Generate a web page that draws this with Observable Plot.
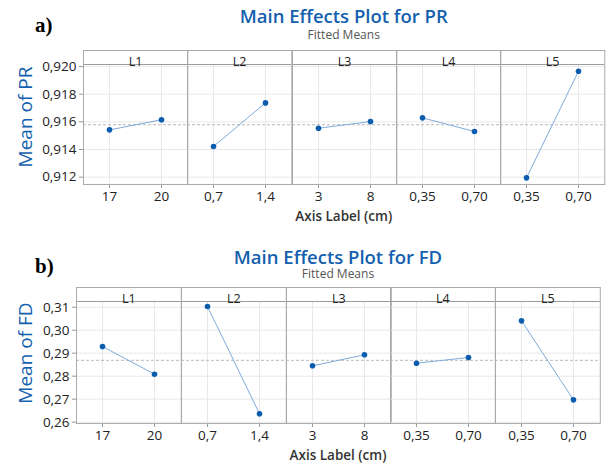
<!DOCTYPE html>
<html><head><meta charset="utf-8">
<script src="https://cdn.jsdelivr.net/npm/d3@7"></script>
<script src="https://cdn.jsdelivr.net/npm/@observablehq/plot@0.6"></script>
<style>
body{margin:0;background:#fff;}
#fig{position:relative;width:606px;height:466px;overflow:hidden;background:#fff;font-family:"Open Sans",sans-serif;}
.abs{position:absolute;white-space:nowrap;}
.title{color:#145fae;font-size:18.5px;line-height:16px;font-weight:600;text-align:center;}
.sub{color:#555;font-size:12px;line-height:12px;text-align:center;}
.tag{font-family:"Liberation Serif","Times New Roman",serif;font-weight:bold;font-size:21px;line-height:21px;color:#000;}
.ylab{color:#145fae;font-size:19px;line-height:24px;height:24px;width:130px;text-align:center;transform:rotate(-90deg);transform-origin:center;}
.xlab{color:#333;font-size:13.5px;line-height:13.5px;font-weight:600;text-align:center;}
#fig svg g[aria-label="x-axis tick"], #fig svg g[aria-label="y-axis tick"]{stroke:#999;}
#fig svg g.tick line{stroke:#999;}
</style></head><body><div id="fig"></div>
<script>
// ---- data ----
const levels = ["L1", "L2", "L3", "L4", "L5"];
const xLabels = [["17", "20"], ["0,7", "1,4"], ["3", "8"], ["0,35", "0,70"], ["0,35", "0,70"]];
const prMeans = [[0.91542, 0.91615], [0.91422, 0.91737], [0.91554, 0.91602], [0.91629, 0.91530], [0.91195, 0.91966]];
const fdMeans = [[0.29291, 0.28087], [0.31030, 0.26365], [0.28451, 0.28930], [0.28565, 0.28812], [0.30407, 0.26972]];
const prTicks = [0.912, 0.914, 0.916, 0.918, 0.920];
const fdTicks = [0.26, 0.27, 0.28, 0.29, 0.30, 0.31];
const prTitle = "Main Effects Plot for PR";
const fdTitle = "Main Effects Plot for FD";
const subTitle = "Fitted Means";
const xTitle = "Axis Label (cm)";
const prYTitle = "Mean of PR";
const fdYTitle = "Mean of FD";

// ---- layout ----
const fig = document.getElementById("fig");
function addDiv(cls, text, css) {
  const d = document.createElement("div");
  d.className = "abs " + cls;
  d.textContent = text;
  Object.assign(d.style, css);
  fig.appendChild(d);
  return d;
}
const comma = (digits) => (v) => v.toFixed(digits).replace(".", ",");

function chart(cfg) {
  const {means, ticks, digits, domain, left, right, top, bottom, tag, title, ytitle, tagTop, titleTop, subTop, xTop, ylabY} = cfg;
  const pw = (right - left) / levels.length;
  const H = bottom - top;
  const stripPx = 14;
  const [lo, hi] = domain;
  const stripY = hi - (hi - lo) * stripPx / H;
  const grand = d3.mean(means.flat());
  levels.forEach((level, i) => {
    const ml = i === 0 ? 60 : 0;
    const data = xLabels[i].map((l, j) => ({x: l, y: means[i][j]}));
    const svg = Plot.plot({
      width: pw + ml, height: H + 30,
      marginLeft: ml, marginRight: 0, marginTop: 0, marginBottom: 30,
      style: {overflow: "visible", background: "transparent", fontFamily: "Open Sans", fontSize: "13.5px", color: "#222"},
      x: {domain: xLabels[i], padding: 0.5, tickSize: 4, tickPadding: 3, label: null},
      y: i === 0
        ? {domain, ticks, tickFormat: comma(digits), tickSize: 4, tickPadding: 3, label: null}
        : {domain, axis: null},
      marks: [
        Plot.ruleY(ticks, {stroke: "#e8e8e8"}),
        Plot.ruleX(xLabels[i], {x: (d) => d, y1: lo, y2: stripY, stroke: "#e8e8e8"}),
        Plot.ruleY([grand], {stroke: "#b8b8b8", strokeDasharray: "3,2"}),
        Plot.ruleY([stripY], {stroke: "#9a9a9a"}),
        Plot.frame({stroke: "#aaaaaa"}),
        Plot.text([level], {frameAnchor: "top", dy: 7, fontSize: 12.5, fill: "#222"}),
        Plot.line(data, {x: "x", y: "y", stroke: "#7eaadb", strokeWidth: 1}),
        Plot.dot(data, {x: "x", y: "y", r: 2.8, fill: "#0b5cad", stroke: "none"})
      ]
    });
    svg.style.position = "absolute";
    svg.style.left = (left + i * pw - ml) + "px";
    svg.style.top = top + "px";
    fig.appendChild(svg);
  });
  addDiv("tag", tag, {left: "35px", top: tagTop + "px"});
  addDiv("title", title, {left: left + "px", width: (right - left) + "px", top: titleTop + "px"});
  addDiv("sub", subTitle, {left: left + "px", width: (right - left) + "px", top: subTop + "px"});
  addDiv("xlab", xTitle, {left: left + "px", width: (right - left) + "px", top: xTop + "px"});
  addDiv("ylab", ytitle, {left: (25 - 65) + "px", top: (ylabY - 12) + "px"});
}

chart({means: prMeans, ticks: prTicks, digits: 3, domain: [0.91147, 0.92116],
  left: 83, right: 604.5, top: 50, bottom: 184,
  tag: "a)", title: prTitle, ytitle: prYTitle,
  tagTop: 15.4, titleTop: 8, subTop: 28.5, xTop: 209.7, ylabY: 116.5});
chart({means: fdMeans, ticks: fdTicks, digits: 2, domain: [0.25943, 0.31857],
  left: 76, right: 600, top: 287, bottom: 423,
  tag: "b)", title: fdTitle, ytitle: fdYTitle,
  tagTop: 256.4, titleTop: 249, subTop: 267.5, xTop: 449, ylabY: 353});
</script>
</body></html>
